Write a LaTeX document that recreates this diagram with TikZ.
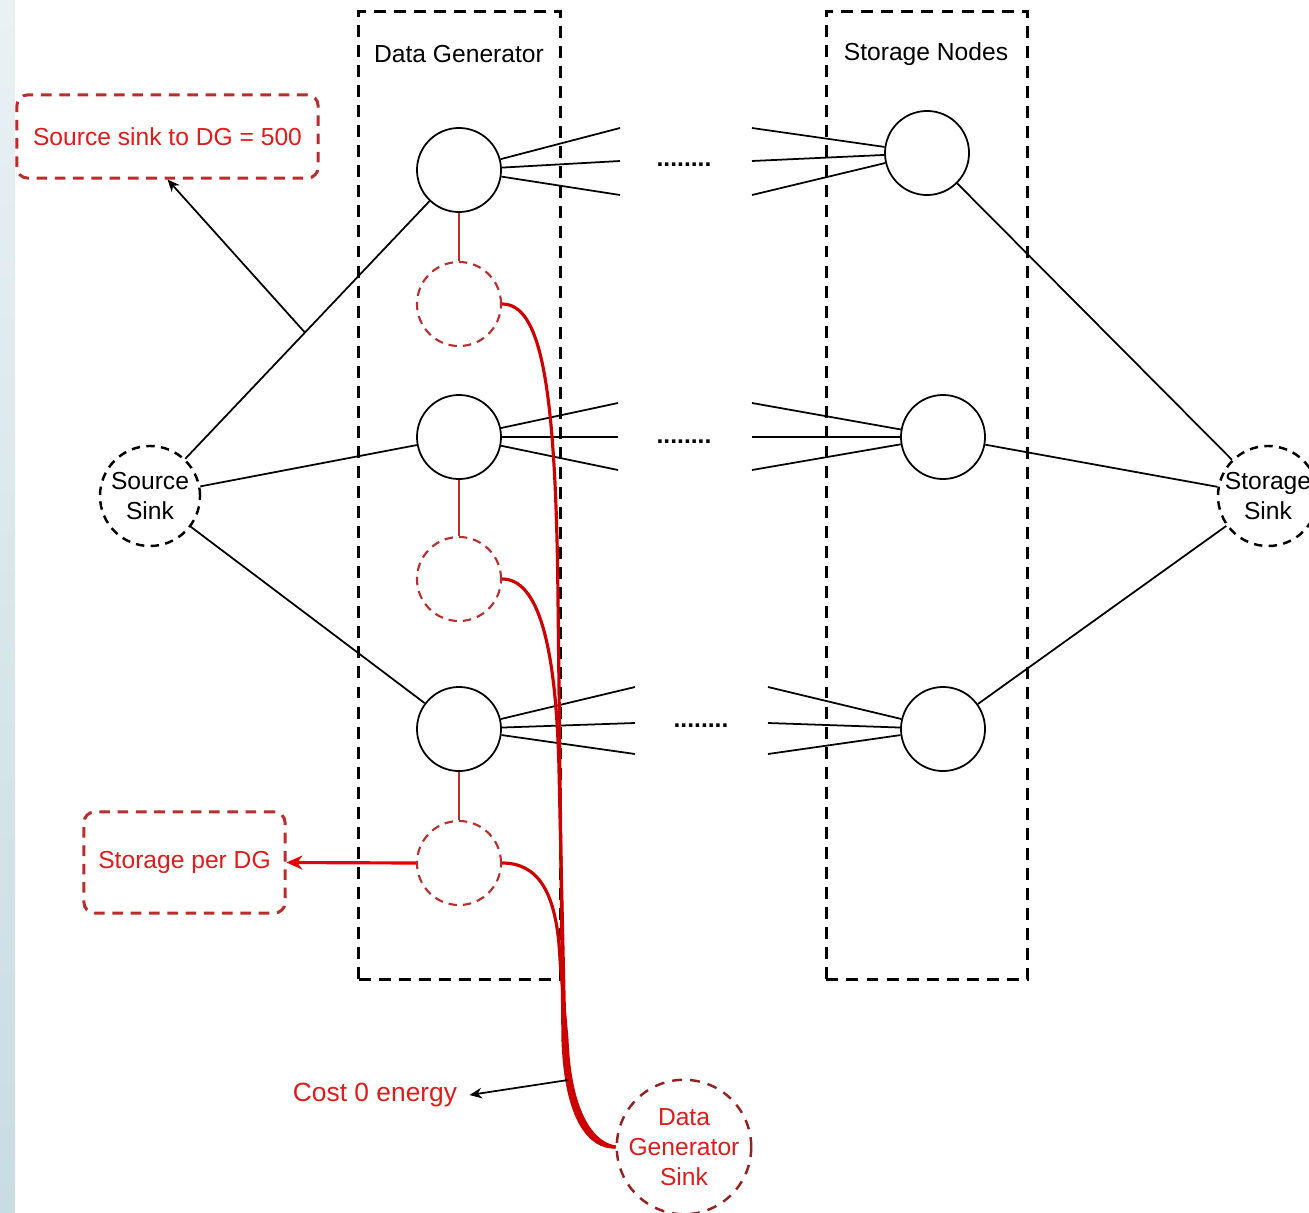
\documentclass[tikz,border=0pt]{standalone}
\usepackage{fontspec}
\setmainfont{Liberation Sans}
\usepackage{xcolor}
\usepackage{tikz}
\usetikzlibrary{arrows.meta}
\definecolor{sinkred}{RGB}{145,35,35}
\definecolor{boxred}{RGB}{185,45,45}
\definecolor{textred}{RGB}{222,28,28}
\definecolor{flowred}{RGB}{205,0,0}
\definecolor{edgeblue}{RGB}{200,220,228}

\begin{document}
\begin{tikzpicture}[x=0.01cm,y=-0.01cm,font=\fontsize{7}{8.5}\selectfont]
				\useasboundingbox (0,0) rectangle (1309,1212);
				\shade[top color=edgeblue!40,bottom color=edgeblue] (0,0) rectangle (15,1212);

				\begin{scope}[every node/.style={draw,line width=0.85pt,dash pattern=on 3.4pt off 2.3pt,minimum width=2.01cm,minimum height=9.67cm,inner sep=0pt}]
				    \node (DGbox) at (459.5,495.5) {};
				    \node (SNbox) at (927,495.5) {};
				\end{scope}
				\node (DGlabel) at (459,54) {Data Generator};
				\node (SNlabel) at (926,54) {Storage Nodes};

				\begin{scope}[every node/.style={circle,draw,line width=0.5pt,minimum size=0.84cm,inner sep=0pt}]
				    \node (G1) at (459,170) {};
				    \node (G2) at (459,437) {};
				    \node (G3) at (459,729) {};
				    \node (S1) at (927,153) {};
				    \node (S2) at (943,437) {};
				    \node (S3) at (943,729) {};
				\end{scope}

				\begin{scope}[every node/.style={circle,draw=boxred,line width=0.6pt,dash pattern=on 2.4pt off 1.7pt,minimum size=0.84cm,inner sep=0pt}]
				    \node (B1) at (459,304) {};
				    \node (B2) at (459,579) {};
				    \node (B3) at (459,863) {};
				\end{scope}

				\begin{scope}[every node/.style={circle,draw,line width=0.7pt,dash pattern=on 2.4pt off 1.8pt,minimum size=1cm,inner sep=0pt,align=center}]
				    \node (SrcSink) at (150,496) {Source\\Sink};
				    \node (StoSink) at (1268,496) {Storage\\Sink};
				    \node[draw=sinkred,text=textred,minimum size=1.3cm,dash pattern=on 2.8pt off 2.3pt] (GenSink) at (684,1147) {Data\\Generator\\Sink};
				\end{scope}

				\begin{scope}[every node/.style={draw=boxred,text=textred,line width=0.85pt,dash pattern=on 3pt off 2.2pt,rounded corners=3pt,inner sep=0pt}]
				    \node[minimum width=3.01cm,minimum height=0.83cm] (SrcNote) at (167.5,136.5) {Source sink to DG = 500};
				    \node[minimum width=2.01cm,minimum height=1.01cm] (StoNote) at (184.5,862.5) {Storage per DG};
				\end{scope}
				\node[text=textred,font=\fontsize{7.5}{9}\selectfont] (CostNote) at (375,1095) {Cost 0 energy};

				\begin{scope}[line width=0.5pt]
				    \draw (SrcSink) -- coordinate[pos=0.49] (a1) (G1);
				    \draw (SrcSink) -- (G2);
				    \draw (SrcSink) -- (G3);
				    \foreach \i in {1,2,3}
				        \draw (S\i) -- (StoSink);
				    \foreach \r/\xl/\xr/\ya/\yb/\yc in {1/620/752/128/161/195, 2/618/752/403/437/470, 3/635/768/687/723/754} {
				        \foreach \y [count=\k] in {\ya,\yb,\yc} {
				            \coordinate (L\r\k) at (\xl,\y);
				            \coordinate (R\r\k) at (\xr,\y);
				            \draw (G\r) -- (L\r\k);
				            \draw (R\r\k) -- (S\r);
				        }
				    }
				\end{scope}

				\begin{scope}[every node/.style={font=\bfseries\fontsize{7}{8.5}\selectfont,inner sep=0pt}]
				    \node (dots1) at (684,165) {........};
				    \node (dots2) at (684,442) {........};
				    \node (dots3) at (701,726) {........};
				\end{scope}

				\begin{scope}[draw=boxred,line width=0.6pt]
				    \foreach \i in {1,2,3}
				        \draw (G\i) -- (B\i);
				\end{scope}

				\begin{scope}[draw=flowred,line width=0.9pt]
				    \draw (B1.east) .. controls (540,304) and (556,380) .. (558,600) -- (563,1040) .. controls (566,1120) and (590,1148) .. (GenSink.west);
				    \draw (B2.east) .. controls (537,579) and (556,640) .. (559,770) -- (565,1040) .. controls (568,1118) and (592,1146) .. (GenSink.west);
				    \draw (B3.east) .. controls (537,863) and (557,890) .. (560,960) -- (567,1040) .. controls (570,1116) and (594,1144) .. (GenSink.west);
				    \draw[color=red!90!black,-{Stealth[length=4.5pt,width=4pt]}] (B3.west) -- (StoNote.east);
				\end{scope}

				\coordinate (c0) at (568,1080);
				\begin{scope}[>={Stealth[length=3.5pt,width=3pt]},line width=0.5pt]
				    \draw[->] (a1) -- (SrcNote.south);
				    \draw[->] (c0) -- (CostNote.east);
				\end{scope}
\end{tikzpicture}
\end{document}
